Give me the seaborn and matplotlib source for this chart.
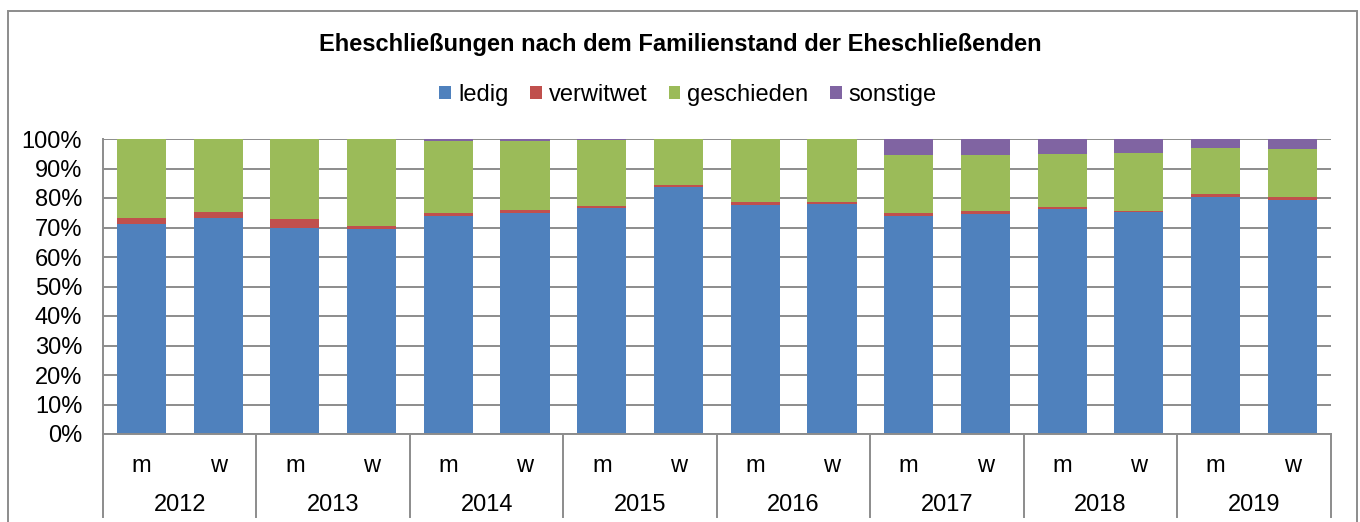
import pandas as pd
import seaborn as sns
import matplotlib.pyplot as plt
from matplotlib.patches import Patch, Rectangle
from matplotlib.ticker import PercentFormatter

years = ["2012", "2013", "2014", "2015", "2016", "2017", "2018", "2019"]
sexes = ["m", "w"]

# shares in percent, one value per bar (m, w for each year)
ledig = [71.1, 73.1, 70.0, 69.5, 74.0, 74.8, 76.7, 83.6, 77.7, 78.0, 73.8, 74.5, 76.3, 75.2, 80.2, 79.4]
verwitwet = [2.2, 2.1, 3.0, 1.0, 1.0, 1.0, 0.7, 0.9, 1.0, 0.7, 1.2, 1.1, 0.5, 0.5, 1.3, 0.8]
geschieden = [26.7, 24.8, 27.0, 29.5, 24.2, 23.6, 22.4, 15.4, 21.2, 21.2, 19.6, 19.0, 18.1, 19.4, 15.6, 16.5]
sonstige = [0.0, 0.0, 0.0, 0.0, 0.8, 0.6, 0.2, 0.1, 0.1, 0.1, 5.4, 5.4, 5.1, 4.9, 2.9, 3.3]

series = ["ledig", "verwitwet", "geschieden", "sonstige"]
colors = ["#4F81BD", "#C0504D", "#9BBB59", "#8064A2"]

labels = [f"{y} {s}" for y in years for s in sexes]
df = pd.DataFrame({"bar": labels, "ledig": ledig, "verwitwet": verwitwet,
                   "geschieden": geschieden, "sonstige": sonstige})
# cumulative tops for overlay-style stacking
cum = df[series].cumsum(axis=1)

plt.rcParams["font.family"] = ["Liberation Sans", "DejaVu Sans"]
fig = plt.figure(figsize=(13.6, 5.22), dpi=100)
ax = fig.add_axes([103 / 1360, 88 / 522, 1227.7 / 1360, 295 / 522])

for name, col in reversed(list(zip(series, colors))):
    sns.barplot(x=df["bar"], y=cum[name], order=labels, color=col,
                width=0.64, linewidth=0, saturation=1, ax=ax, zorder=3)

ax.set_ylim(0, 100)
ax.set_xlim(-0.5, len(labels) - 0.5)
ax.set_yticks(range(0, 101, 10))
ax.yaxis.set_major_formatter(PercentFormatter(decimals=0))
ax.tick_params(axis="y", length=0, pad=15, labelsize=17)
ax.tick_params(axis="x", length=0, labelbottom=False)
ax.set_xlabel("")
ax.set_ylabel("")
ax.grid(axis="y", color="#8c8c8c", linewidth=1.4, zorder=0)
for side in ["top", "right", "bottom"]:
    ax.spines[side].set_visible(False)
ax.spines["left"].set_color("#8c8c8c")
ax.spines["left"].set_linewidth(1.4)
ax.axhline(0, color="#8c8c8c", linewidth=1.4, zorder=4, clip_on=False)

# two-level category axis
trans = ax.get_xaxis_transform()
for i, lab in enumerate(labels):
    ax.text(i, -0.11, lab.split()[1], transform=trans, ha="center", va="center", fontsize=17)
for j, y in enumerate(years):
    ax.text(2 * j + 0.5, -0.24, y, transform=trans, ha="center", va="center", fontsize=17)
for k in range(len(years) + 1):
    ax.plot([2 * k - 0.5, 2 * k - 0.5], [0, -0.28], transform=trans, color="#8c8c8c",
            linewidth=1.4, clip_on=False)

handles = [Patch(facecolor=c, label=s) for s, c in zip(series, colors)]
fig.legend(handles=handles, loc="center", bbox_to_anchor=(0.5 + 8 / 1360, 1 - 95 / 522), ncol=4,
           frameon=False, fontsize=17, handlelength=0.5, handleheight=0.5,
           handletextpad=0.3, columnspacing=0.9)
fig.text(0.5, 1 - 44 / 522, "Eheschließungen nach dem Familienstand der Eheschließenden",
         ha="center", va="center", fontsize=17, fontweight="bold")

fig.patches.append(Rectangle((8 / 1360, -0.05), 1348.7 / 1360, 1.05 - 11 / 522,
                             transform=fig.transFigure, fill=False, edgecolor="#8c8c8c",
                             linewidth=1.4))

fig.savefig("out.png", dpi=100)
